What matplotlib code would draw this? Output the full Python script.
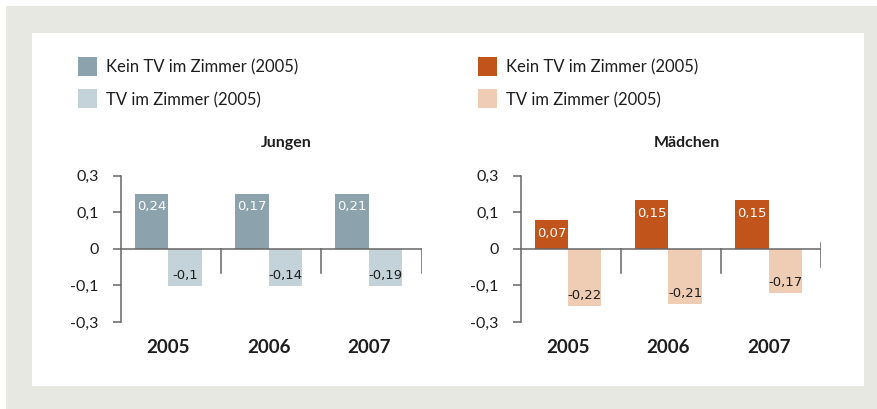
import matplotlib
matplotlib.use("Agg")
import matplotlib.pyplot as plt
from matplotlib.patches import Rectangle

# ---------------- data ----------------
years = ["2005", "2006", "2007"]
panel_titles = ["Jungen", "Mädchen"]
legend_labels = ["Kein TV im Zimmer (2005)", "TV im Zimmer (2005)"]
# axis positions of the (evenly spaced) ticks and their printed labels
tick_positions = [0.2, 0.1, 0.0, -0.1, -0.2]
tick_labels = ["0,3", "0,1", "0", "-0,1", "-0,3"]

# bar heights as drawn in the chart (axis units) and the printed values
jungen_kein = [0.150, 0.150, 0.150]
jungen_tv = [-0.101, -0.101, -0.101]
jungen_kein_lbl = ["0,24", "0,17", "0,21"]
jungen_tv_lbl = ["-0,1", "-0,14", "-0,19"]

maedchen_kein = [0.078, 0.133, 0.133]
maedchen_tv = [-0.156, -0.150, -0.120]
maedchen_kein_lbl = ["0,07", "0,15", "0,15"]
maedchen_tv_lbl = ["-0,22", "-0,21", "-0,17"]

# ---------------- style ----------------
W, H = 878, 409
FONT = "Lato"
TXT = "#1e1e1e"
AX = "#666666"
colors = {"Jungen": ("#8ca3ad", "#c4d3d9"), "Mädchen": ("#c0541a", "#eecdb4")}

fig = plt.figure(figsize=(W / 100, H / 100), dpi=100)
fig.patch.set_facecolor("white")


def fx(x):
    return x / W


def fy(y):
    return 1 - y / H


def rect(x0, y0, x1, y1, color):
    fig.add_artist(Rectangle((fx(x0), fy(y1)), fx(x1) - fx(x0), fy(y0) - fy(y1),
                             transform=fig.transFigure, facecolor=color,
                             edgecolor="none", zorder=0))


rect(6, 6, 878, 409, "#e8e8e2")
rect(32.3, 33.3, 864, 385.7, "white")

panels = [
    ("Jungen", 121, jungen_kein, jungen_tv, jungen_kein_lbl, jungen_tv_lbl, 78, (0.0, -0.066)),
    ("Mädchen", 520.7, maedchen_kein, maedchen_tv, maedchen_kein_lbl, maedchen_tv_lbl, 478, (0.016, -0.05)),
]

for title, left_px, kein, tv, klbl, tlbl, leg_x, end_tick in panels:
    dark, light = colors[title]
    ax = fig.add_axes([fx(left_px), fy(322), 300.7 / W, (322 - 175.7) / H])
    ax.set_facecolor("none")
    ax.set_xlim(0, 3)
    ax.set_ylim(-0.2, 0.2)
    for s in ["top", "right", "bottom"]:
        ax.spines[s].set_visible(False)
    ax.spines["left"].set_color(AX)
    ax.spines["left"].set_linewidth(1.1)
    ax.set_yticks(tick_positions)
    ax.set_yticklabels(tick_labels, fontfamily=FONT, fontsize=11.5, color=TXT)
    ax.tick_params(axis="y", length=5.5, width=1.1, color=AX, pad=10.5)

    xs = list(range(len(years)))
    centers = [i + 0.473 for i in xs]
    ax.bar([i + 0.14 for i in xs], kein, width=0.333, align="edge", color=dark, zorder=2)
    ax.bar([i + 0.473 for i in xs], tv, width=0.333, align="edge", color=light, zorder=2)
    ax.set_xticks(centers)
    ax.set_xticklabels(years, fontfamily=FONT, fontsize=13.5, fontweight="bold", color=TXT)
    ax.tick_params(axis="x", length=0, pad=12)

    ax.plot([0, 3], [0, 0], color=AX, lw=1.1, zorder=3, solid_capstyle="butt")
    for i in [1, 2]:
        ax.plot([i, i], [0, -0.066], color=AX, lw=1.1, zorder=3)
    ax.plot([3, 3], list(end_tick), color=AX, lw=1.1, zorder=3)

    for i in xs:
        ax.annotate(klbl[i], (i + 0.14 + 0.1665, kein[i]), xytext=(0, -13),
                    textcoords="offset pixels", ha="center", va="center",
                    fontsize=9.5, color="white", fontfamily="DejaVu Sans", zorder=4)
        ax.annotate(tlbl[i], (i + 0.473 + 0.1665, tv[i]), xytext=(0, 10.5),
                    textcoords="offset pixels", ha="center", va="center",
                    fontsize=9.5, color=TXT, fontfamily="DejaVu Sans", zorder=4)

    # title
    fig.text(fx(left_px + 165.7), fy(143), title, ha="center", va="center",
             fontfamily=FONT, fontsize=11.5, fontweight="bold", color=TXT)
    # legend
    for k, (lab, col) in enumerate(zip(legend_labels, [dark, light])):
        yc = 66.2 + k * 32.3
        rect(leg_x, yc - 9.5, leg_x + 18.7, yc + 9.5, col)
        fig.text(fx(leg_x + 28), fy(yc + 1.5), lab, ha="left", va="center",
                 fontfamily=FONT, fontsize=12, color=TXT)

fig.savefig("out.png", dpi=100, facecolor=fig.get_facecolor())
